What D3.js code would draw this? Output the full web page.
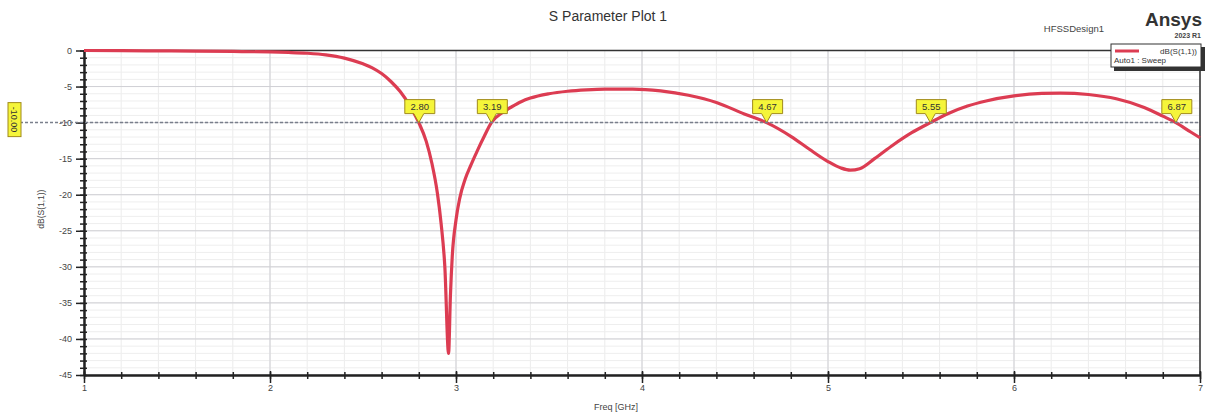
<!DOCTYPE html>
<html>
<head>
<meta charset="utf-8">
<script src="https://cdn.jsdelivr.net/npm/d3@7"></script>
<style>
  body { margin: 0; background: #fff; }
  text { font-family: "Liberation Sans", Arial, sans-serif; }
</style>
</head>
<body>
<div id="chart"></div>
<script>
// frequency (GHz) and dB(S(1,1))
var freq = [1.0, 1.2, 1.4, 1.6, 1.8, 2.0, 2.1, 2.2, 2.3, 2.4, 2.5, 2.55, 2.6, 2.65, 2.7, 2.75, 2.8, 2.84, 2.87, 2.9, 2.92, 2.94, 2.96, 2.97, 2.98, 3.0, 3.02, 3.05, 3.08, 3.12, 3.15, 3.19, 3.25, 3.3, 3.35, 3.4, 3.5, 3.6, 3.7, 3.8, 3.95, 4.1, 4.25, 4.4, 4.55, 4.67, 4.8, 4.9, 5.0, 5.07, 5.12, 5.17, 5.25, 5.35, 5.45, 5.55, 5.65, 5.75, 5.85, 6.0, 6.15, 6.25, 6.4, 6.55, 6.7, 6.8, 6.87, 6.95, 7.0];
var s11 = [0, -0.02, -0.05, -0.08, -0.13, -0.2, -0.27, -0.38, -0.6, -1.05, -1.85, -2.4, -3.2, -4.3, -5.7, -7.6, -10.0, -12.6, -15.6, -19.8, -24, -30, -42, -34, -28.5, -23.5, -20.5, -17.8, -15.9, -13.6, -12.0, -10.0, -8.6, -7.8, -7.1, -6.6, -6.0, -5.65, -5.45, -5.35, -5.35, -5.6, -6.2, -7.2, -8.8, -10.0, -11.9, -13.7, -15.4, -16.3, -16.6, -16.4, -15.0, -13.1, -11.4, -10.0, -8.7, -7.7, -7.0, -6.3, -5.95, -5.9, -6.1, -6.7, -7.9, -9.1, -10.0, -11.3, -12.1];
var markerFreq = [2.80, 3.19, 4.67, 5.55, 6.87];
var markerText = ["2.80", "3.19", "4.67", "5.55", "6.87"];
var xTicks = [1, 2, 3, 4, 5, 6, 7];
var yTicks = [0, -5, -10, -15, -20, -25, -30, -35, -40, -45];
var refLevel = -10;

var data = freq.map(function(f, i) { return [f, s11[i]]; });

var W = 1210, H = 415;
var margin = { top: 50.5, right: 10, bottom: 40, left: 84 };
var width = 1200 - margin.left;
var height = 375 - margin.top;

var svg = d3.select("#chart")
  .append("svg")
    .attr("width", W)
    .attr("height", H);

var g = svg.append("g")
    .attr("transform", "translate(" + margin.left + "," + margin.top + ")");

var x = d3.scaleLinear().domain([1, 7]).range([0, width]);
var y = d3.scaleLinear().domain([-45, 0]).range([height, 0]);

// minor grid
g.append("g")
  .selectAll("line")
  .data(d3.range(1, 7.001, 0.2))
  .enter().append("line")
    .attr("x1", function(d) { return x(d); })
    .attr("x2", function(d) { return x(d); })
    .attr("y1", 0).attr("y2", height)
    .attr("stroke", "#ececec").attr("stroke-width", 1);

g.append("g")
  .selectAll("line")
  .data(d3.range(-45, 0.001, 1))
  .enter().append("line")
    .attr("y1", function(d) { return y(d); })
    .attr("y2", function(d) { return y(d); })
    .attr("x1", 0).attr("x2", width)
    .attr("stroke", "#eeeeee").attr("stroke-width", 1);

// major grid
g.append("g")
  .selectAll("line")
  .data(xTicks)
  .enter().append("line")
    .attr("x1", function(d) { return x(d); })
    .attr("x2", function(d) { return x(d); })
    .attr("y1", 0).attr("y2", height)
    .attr("stroke", "#cfcfd4").attr("stroke-width", 1);

g.append("g")
  .selectAll("line")
  .data(yTicks)
  .enter().append("line")
    .attr("y1", function(d) { return y(d); })
    .attr("y2", function(d) { return y(d); })
    .attr("x1", 0).attr("x2", width)
    .attr("stroke", "#cfcfd4").attr("stroke-width", 1);

// frame top/right
g.append("line").attr("x1", 0).attr("x2", width).attr("y1", 0).attr("y2", 0)
  .attr("stroke", "#333").attr("stroke-width", 1.5);
g.append("line").attr("x1", width).attr("x2", width).attr("y1", 0).attr("y2", height)
  .attr("stroke", "#333").attr("stroke-width", 1.5);

// -10 dB reference line
svg.append("line")
  .attr("x1", 20).attr("x2", margin.left + width)
  .attr("y1", margin.top + y(refLevel)).attr("y2", margin.top + y(refLevel))
  .attr("stroke", "#7a7f8c").attr("stroke-width", 1.5)
  .attr("stroke-dasharray", "3,2");

// axes
var xAxis = g.append("g")
  .attr("transform", "translate(0," + height + ")")
  .call(d3.axisBottom(x).tickValues(d3.range(1, 7.001, 0.2)).tickSize(0).tickFormat(""));
xAxis.select(".domain").attr("stroke", "#222").attr("stroke-width", 2.5);
xAxis.selectAll(".tick").append("line")
  .attr("y1", -3).attr("y2", 4).attr("stroke", "#222").attr("stroke-width", 1.5);

g.append("g")
  .attr("transform", "translate(0," + height + ")")
  .call(d3.axisBottom(x).tickValues(xTicks).tickSize(0).tickPadding(8).tickFormat(function(d) { return String(d); }))
  .call(function(a) {
    a.select(".domain").remove();
    a.selectAll(".tick line").remove();
    a.selectAll(".tick").append("line").attr("y1", -4).attr("y2", 8).attr("stroke", "#222").attr("stroke-width", 1.5);
    a.selectAll("text").attr("font-size", 9).attr("fill", "#444").attr("dy", "0.9em");
  });

var yAxis = g.append("g")
  .call(d3.axisLeft(y).tickValues(d3.range(-45, 0.001, 1)).tickSize(0).tickFormat(""));
yAxis.select(".domain").attr("stroke", "#222").attr("stroke-width", 2.5);
yAxis.selectAll(".tick").append("line")
  .attr("x1", -4).attr("x2", 3).attr("stroke", "#222").attr("stroke-width", 1.5);

g.append("g")
  .call(d3.axisLeft(y).tickValues(yTicks).tickSize(0).tickPadding(12).tickFormat(function(d) { return String(d); }))
  .call(function(a) {
    a.select(".domain").remove();
    a.selectAll(".tick").append("line").attr("x1", -8).attr("x2", 0).attr("stroke", "#222").attr("stroke-width", 1.5);
    a.selectAll("text").attr("font-size", 9).attr("fill", "#444");
  });

// curve
var line = d3.line()
  .x(function(d) { return x(d[0]); })
  .y(function(d) { return y(d[1]); })
  .curve(d3.curveMonotoneX);

g.append("path")
  .datum(data)
  .attr("fill", "none")
  .attr("stroke", "#dc3c52")
  .attr("stroke-width", 3.2)
  .attr("stroke-linejoin", "round")
  .attr("d", line);

// markers
var mk = g.append("g").selectAll("g")
  .data(markerFreq)
  .enter().append("g")
    .attr("transform", function(d) { return "translate(" + x(d) + "," + y(refLevel) + ")"; });

mk.append("path")
  .attr("d", "M0,0 L-5,-9 L-14,-9 L-14,-23 L16,-23 L16,-9 L5,-9 Z")
  .attr("fill", "#f5f53a")
  .attr("stroke", "#a08a1a")
  .attr("stroke-width", 1);

mk.append("text")
  .attr("x", 1).attr("y", -12.5)
  .attr("text-anchor", "middle")
  .attr("font-size", 9.5)
  .attr("fill", "#333")
  .text(function(d, i) { return markerText[i]; });

// y reference marker at left
var ym = svg.append("g")
  .attr("transform", "translate(14," + (margin.top + y(refLevel) - 3) + ")");
ym.append("rect")
  .attr("x", -6).attr("y", -17).attr("width", 13).attr("height", 34)
  .attr("fill", "#f5f53a").attr("stroke", "#a08a1a");
ym.append("text")
  .attr("transform", "rotate(90)")
  .attr("text-anchor", "middle").attr("dy", "0.35em")
  .attr("font-size", 9).attr("fill", "#333")
  .text(refLevel.toFixed(2));

// axis titles
svg.append("text")
  .attr("x", margin.left + x(4) - 26).attr("y", 410)
  .attr("text-anchor", "middle")
  .attr("font-size", 9).attr("fill", "#444")
  .text("Freq [GHz]");

svg.append("text")
  .attr("transform", "translate(44," + (margin.top + y(-22)) + ") rotate(-90)")
  .attr("text-anchor", "middle")
  .attr("font-size", 8.5).attr("fill", "#444")
  .text("dB(S(1,1))");

// title and branding
svg.append("text")
  .attr("x", 608).attr("y", 21)
  .attr("text-anchor", "middle")
  .attr("font-size", 14).attr("fill", "#333")
  .text("S Parameter Plot 1");

svg.append("text")
  .attr("x", 1104).attr("y", 32)
  .attr("text-anchor", "end")
  .attr("font-size", 9.5).attr("fill", "#444")
  .text("HFSSDesign1");

svg.append("text")
  .attr("x", 1202).attr("y", 26)
  .attr("text-anchor", "end")
  .attr("font-size", 19).attr("font-weight", "bold").attr("fill", "#333")
  .text("Ansys");

svg.append("text")
  .attr("x", 1201).attr("y", 38)
  .attr("text-anchor", "end")
  .attr("font-size", 7).attr("font-weight", "bold").attr("fill", "#444")
  .text("2023 R1");

// legend
var lg = svg.append("g").attr("transform", "translate(1111,44)");
lg.append("rect").attr("x", 3).attr("y", 3).attr("width", 91).attr("height", 24).attr("fill", "#333");
lg.append("rect").attr("x", 0).attr("y", 0).attr("width", 90).attr("height", 23)
  .attr("fill", "#fff").attr("stroke", "#333").attr("stroke-width", 1);
lg.append("line").attr("x1", 4).attr("x2", 28).attr("y1", 7).attr("y2", 7)
  .attr("stroke", "#dc3c52").attr("stroke-width", 3);
lg.append("text").attr("x", 86).attr("y", 10).attr("text-anchor", "end")
  .attr("font-size", 8).attr("fill", "#333").text("dB(S(1,1))");
lg.append("text").attr("x", 3).attr("y", 19)
  .attr("font-size", 8).attr("fill", "#333").text("Auto1 : Sweep");
</script>
</body>
</html>
